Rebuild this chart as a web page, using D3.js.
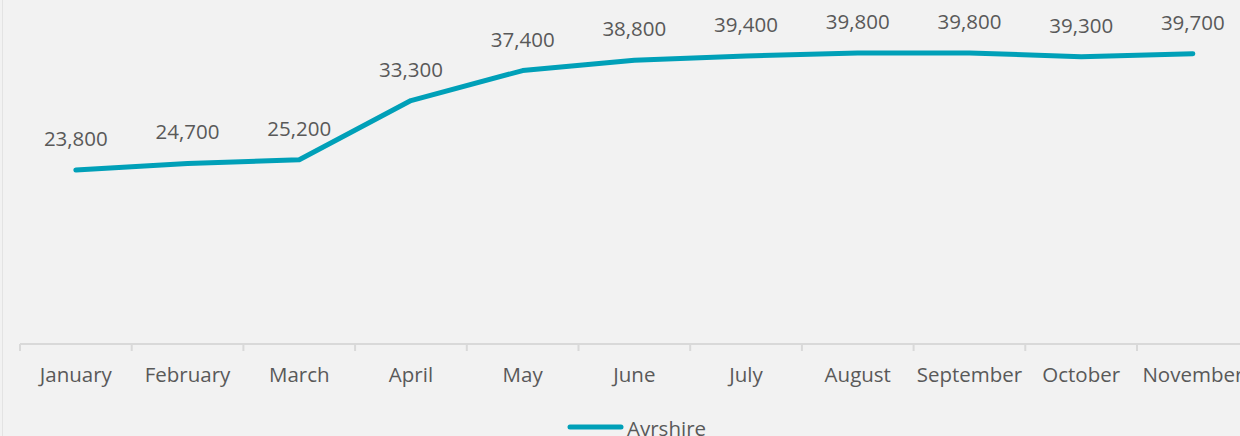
<!DOCTYPE html>
<html><head><meta charset="utf-8">
<script src="https://cdn.jsdelivr.net/npm/d3@7"></script>
<style>
html,body{margin:0;padding:0;background:#f2f2f2;overflow:hidden;}
svg{display:block;}
</style></head>
<body>
<svg id="chart" width="1240" height="436"></svg>
<script>
const months = ["January","February","March","April","May","June","July","August","September","October","November"];
const ayrshire = [23800,24700,25200,33300,37400,38800,39400,39800,39800,39300,39700];
const seriesName = "Ayrshire";

const W = 1240, H = 436;
const svg = d3.select("#chart");
svg.append("rect").attr("width",W).attr("height",H).attr("fill","#f2f2f2");
svg.append("line").attr("x1",2.5).attr("x2",2.5).attr("y1",0).attr("y2",H).attr("stroke","#e3e3e3");

const x = d3.scaleBand().domain(months).range([20, 20 + 11*111.7]).padding(0);
const y = d3.scaleLinear().domain([0,45000]).range([344,15]);
const color = "#00a0b8", textColor = "#595959";
const font = "'Open Sans', sans-serif";
const fs = 20.5;

// x axis
const xAxis = d3.axisBottom(x).tickSize(0).tickPadding(0);
const gx = svg.append("g").attr("transform","translate(0,344)").call(xAxis);
gx.select(".domain").attr("stroke","#d9d9d9").attr("stroke-width",2).attr("d",`M20,0H${W+20}`);
gx.selectAll(".tick text").attr("font-family",font).attr("font-size",fs).attr("fill",textColor).attr("dy",0).attr("y",38);
// boundary tick marks
const bounds = months.map(m => x(m)).concat([x(months[months.length-1]) + x.bandwidth()]);
gx.selectAll(".bt").data(bounds).enter().append("line")
  .attr("x1",d=>d).attr("x2",d=>d).attr("y1",0).attr("y2",7)
  .attr("stroke","#d9d9d9").attr("stroke-width",2);

const cx = d => x(d) + x.bandwidth()/2;
const line = d3.line().x((d,i)=>cx(months[i])).y(d=>y(d));
svg.append("path").datum(ayrshire).attr("d",line).attr("fill","none")
  .attr("stroke",color).attr("stroke-width",5).attr("stroke-linecap","round").attr("stroke-linejoin","round");

const fmt = d3.format(",");
svg.selectAll(".lbl").data(ayrshire).enter().append("text")
  .attr("x",(d,i)=>cx(months[i])).attr("y",d=>y(d)-24)
  .attr("text-anchor","middle").attr("font-family",font).attr("font-size",fs).attr("fill",textColor)
  .text(d=>fmt(d));

// legend
const lg = svg.append("g");
lg.append("line").attr("x1",570).attr("x2",621).attr("y1",427).attr("y2",427)
  .attr("stroke",color).attr("stroke-width",5).attr("stroke-linecap","round");
lg.append("text").attr("x",627).attr("y",436).attr("font-family",font).attr("font-size",fs).attr("fill",textColor).text(seriesName);
</script>
</body></html>
